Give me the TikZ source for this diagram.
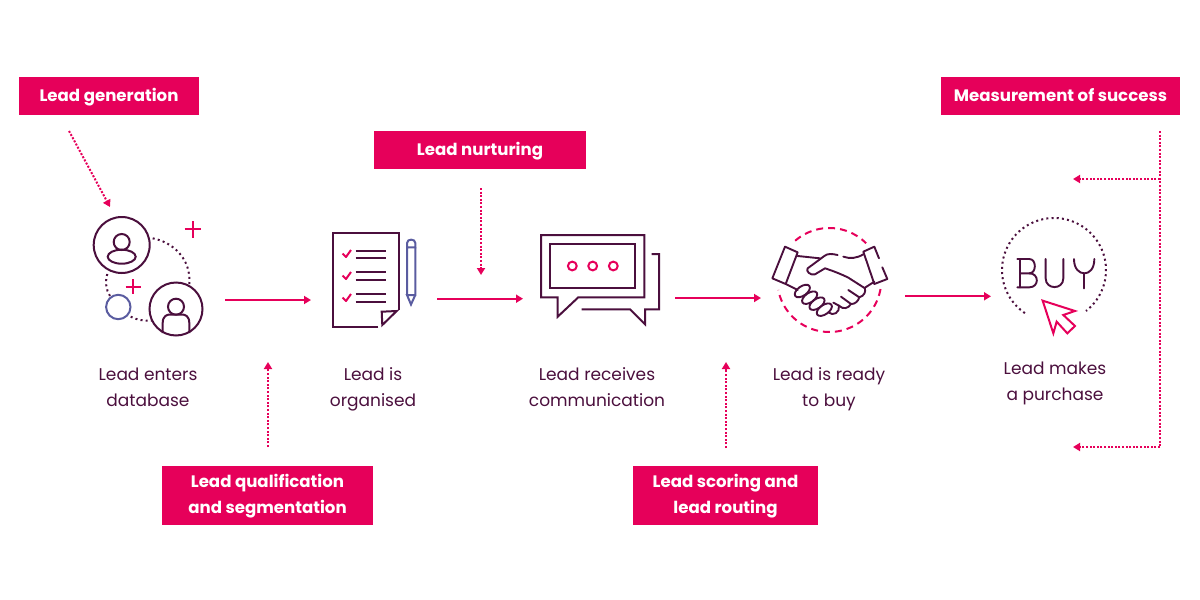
\documentclass[tikz,border=0pt]{standalone}
\usepackage{fontspec}
\setmainfont{Poppins}
\usetikzlibrary{arrows.meta}
\definecolor{pinkc}{HTML}{E6005A}
\definecolor{darkc}{HTML}{4B0F3D}
\definecolor{bluec}{HTML}{5A5CA0}
\tikzset{
  x=1pt,y=-1pt,
  tag/.style={fill=pinkc,text=white,font=\fontsize{16.6}{26}\selectfont\bfseries,align=center,inner sep=0pt,anchor=center},
  capt/.style={text=darkc,font=\fontsize{17}{26}\selectfont,align=center,inner sep=0pt},
  flow/.style={draw=pinkc,line width=2pt,-{Triangle[length=7pt,width=8pt]}},
  dots/.style={draw=pinkc,line width=2pt,dash pattern=on 2pt off 1.6pt,-{Triangle[length=7pt,width=8pt,fill=pinkc]}},
  dotline/.style={draw=pinkc,line width=2pt,dash pattern=on 2pt off 1.6pt},
  ink/.style={draw=darkc,line width=2pt,line join=miter},
  inkt/.style={draw=darkc,line width=1.9pt,line cap=round,line join=round},
  pk/.style={draw=pinkc,line width=2pt},
  bl/.style={draw=bluec,line width=2pt},
  darkdots/.style={draw=darkc,line width=2pt,dash pattern=on 2pt off 3.2pt},
}
\begin{document}
\begin{tikzpicture}
\useasboundingbox (0,0) rectangle (1200,600);
% tags
\node[tag,minimum width=180pt,minimum height=38pt] (gen) at (109,96) {\strut Lead generation};
\node[tag,minimum width=239pt,minimum height=38pt] (meas) at (1060.5,96) {\strut Measurement of success};
\node[tag,minimum width=212pt,minimum height=38pt] (nur) at (480,150) {\strut Lead nurturing};
\node[tag,minimum width=211pt,minimum height=59pt] (qual) at (267.5,495.5) {\strut Lead qualification\\\strut and segmentation};
\node[tag,minimum width=185pt,minimum height=59pt] (score) at (725.5,495.5) {\strut Lead scoring and\\\strut lead routing};
% captions
\node[capt] (c1) at (148,388.5) {\strut Lead enters\\\strut database};
\node[capt] (c2) at (373,388.5) {\strut Lead is\\\strut organised};
\node[capt] (c3) at (597,388.5) {\strut Lead receives\\\strut communication};
\node[capt] (c4) at (829,388.5) {\strut Lead is ready\\\strut to buy};
\node[capt] (c5) at (1055,382.5) {\strut Lead makes\\\strut a purchase};
% coordinates
\coordinate (a1s) at (225,300); \coordinate (a1e) at (311,300);
\coordinate (a2s) at (437,298.7); \coordinate (a2e) at (523,298.7);
\coordinate (a3s) at (675,298); \coordinate (a3e) at (761,298);
\coordinate (a4s) at (905,296.3); \coordinate (a4e) at (991,296.3);
\coordinate (d1s) at (69,131); \coordinate (d1e) at (110,207);
\coordinate (d2s) at (481,188); \coordinate (d2e) at (481,275);
\coordinate (d3s) at (268,447); \coordinate (d3e) at (268,362);
\coordinate (d4s) at (726,448); \coordinate (d4e) at (726,362);
\coordinate (m0) at (1160,131); \coordinate (m1) at (1160,179); \coordinate (m2) at (1160,447);
\coordinate (m1e) at (1073,179); \coordinate (m2e) at (1073,447);
% flow arrows
\draw[flow] (a1s) -- (a1e);
\draw[flow] (a2s) -- (a2e);
\draw[flow] (a3s) -- (a3e);
\draw[flow] (a4s) -- (a4e);
\draw[dots] (d1s) -- (d1e);
\draw[dots] (d2s) -- (d2e);
\draw[dots] (d3s) -- (d3e);
\draw[dots] (d4s) -- (d4e);
\draw[dotline] (m0) -- (m2);
\draw[dots] (m1) -- (m1e);
\draw[dots] (m2) -- (m2e);
% icon 1
\draw[ink] (121.7,245) circle (28);
\draw[ink] (121.7,242) circle (8);
\draw[ink] (121.7,256.7) ellipse (14 and 7);
\draw[ink] (176,309) circle (26.5);
\draw[ink] (176,306.7) circle (8);
\draw[ink] (162.7,333) -- (162.7,323) .. controls (162.7,316) and (167,314.5) .. (170,314.5) -- (182,314.5) .. controls (185,314.5) and (189.3,316) .. (189.3,323) -- (189.3,333);
\draw[bl] (118.3,307) circle (12.2);
\draw[darkdots] (152.7,238.3) .. controls (172,242) and (192,258) .. (189.3,286);
\draw[darkdots] (107.3,274) .. controls (105,282) and (106,290) .. (110,296);
\draw[darkdots] (130.7,316.7) .. controls (137,320) and (144,321) .. (152,320.7);
\draw[pk] (184.5,229.3) -- (201,229.3) (192.7,221) -- (192.7,237.6);
\draw[pk] (125.7,286.7) -- (141,286.7) (133.3,279) -- (133.3,294.4);
% icon 2: document
\draw[ink] (378.3,327.3) -- (332.7,327.3) -- (332.7,233.3) -- (399,233.3) -- (399,310);
\draw[ink] (381.7,311.7) -- (396.7,311) -- (382.3,325) -- cycle;
\foreach \y/\a/\b in {254/250.7/258.3,276/272.3/280,298/294/301.7}{
  \draw[pk,line join=round] (342.5,\y-0.5) -- (346,\y+3) -- (351,\y-4);
  \draw[ink] (355.7,\a) -- (385.7,\a) (355.7,\b) -- (385.7,\b);
}
\draw[bl] (407,295) -- (407,243) .. controls (407,238.5) and (415.3,238.5) .. (415.3,243) -- (415.3,247.3) -- (407,247.3);
\draw[bl] (415.3,247.3) -- (415.3,295) -- (407,295) -- (411,304.5) -- (415.3,295);
% icon 3: bubbles
\draw[ink] (541,235) -- (644.3,235) -- (644.3,297.3) -- (578.3,297.3) -- (557.7,316.7) -- (557.7,297.3) -- (541,297.3) -- cycle;
\draw[ink] (549.7,244.3) rectangle (635.3,288.3);
\foreach \x in {572.3,592.7,613.3}{\draw[pk] (\x,266) circle (4.4);}
\draw[ink] (651.7,254) -- (659,254) -- (659,309.3) -- (645,309.3) -- (645,324.3) -- (630,309.3) -- (581.7,309.3);
% icon 4: handshake
\draw[pk,dash pattern=on 7pt off 5pt,domain=-131:-45,samples=40,smooth] plot ({829.3+52*cos(\x)},{280+52*sin(\x)});
\draw[pk,dash pattern=on 7pt off 5pt,domain=10:169,samples=60,smooth] plot ({829.3+52*cos(\x)},{280+52*sin(\x)});
\begin{scope}[shift={(765,235)},x=0.3333pt,y=-0.3333pt]
\draw[inkt] (60,35) -- (98,52) -- (62,147) -- (22,130) -- cycle;
\draw[inkt] (98,63) -- (165,70);
\draw[inkt] (218,60) .. controls (200,56) and (188,55) .. (178,63) -- (128,100) .. controls (122,108) and (135,122) .. (150,118) -- (180,100) .. controls (205,108) and (230,118) .. (250,128) -- (300,160) .. controls (302,172) and (298,182) .. (283,187);
\draw[inkt] (235,65) .. controls (255,72) and (275,70) .. (295,58);
\draw[inkt] (342,70) -- (328,35) -- (295,50) -- (328,147) -- (367,132) -- (352,97);
\draw[inkt] (300,158) -- (328,140);
\draw[inkt] (62,147) -- (98,165);
\foreach \cx/\cy in {112/168,134/188,156/206,178/224}{\draw[inkt] (\cx,\cy) ellipse[x radius=26,y radius=14,rotate=35];}
\draw[inkt] (250,165) -- (283,187) .. controls (280,198) and (270,208) .. (258,207) -- (228,185);
\draw[inkt] (258,207) .. controls (250,220) and (235,225) .. (222,212) -- (205,203);
\draw[inkt] (222,212) .. controls (225,232) and (205,245) .. (190,232);
\end{scope}
% icon 5: BUY
\draw[darkdots,domain=124:412,samples=120,smooth] plot ({1054+52*cos(\x)},{270+52*sin(\x)});
\begin{scope}[shift={(1000,245)},x=0.3333pt,y=-0.3333pt]
\draw[inkt] (52,42) -- (88,42) .. controls (110,42) and (110,85) .. (88,85) -- (60,85);
\draw[inkt] (60,42) -- (60,127);
\draw[inkt] (52,127) -- (88,127) .. controls (118,127) and (118,85) .. (88,85);
\draw[inkt] (137,42) -- (137,100) .. controls (137,135) and (190,135) .. (190,100) -- (190,42);
\draw[inkt] (222,42) .. controls (222,72) and (238,85) .. (253,85) .. controls (268,85) and (283,72) .. (283,42);
\draw[inkt] (253,85) -- (253,130);
\draw[pk,line join=miter] (128,167) -- (225,198) -- (190,210) -- (225,243) -- (202,265) -- (170,230) -- (160,265) -- cycle;
\end{scope}
\end{tikzpicture}
\end{document}
